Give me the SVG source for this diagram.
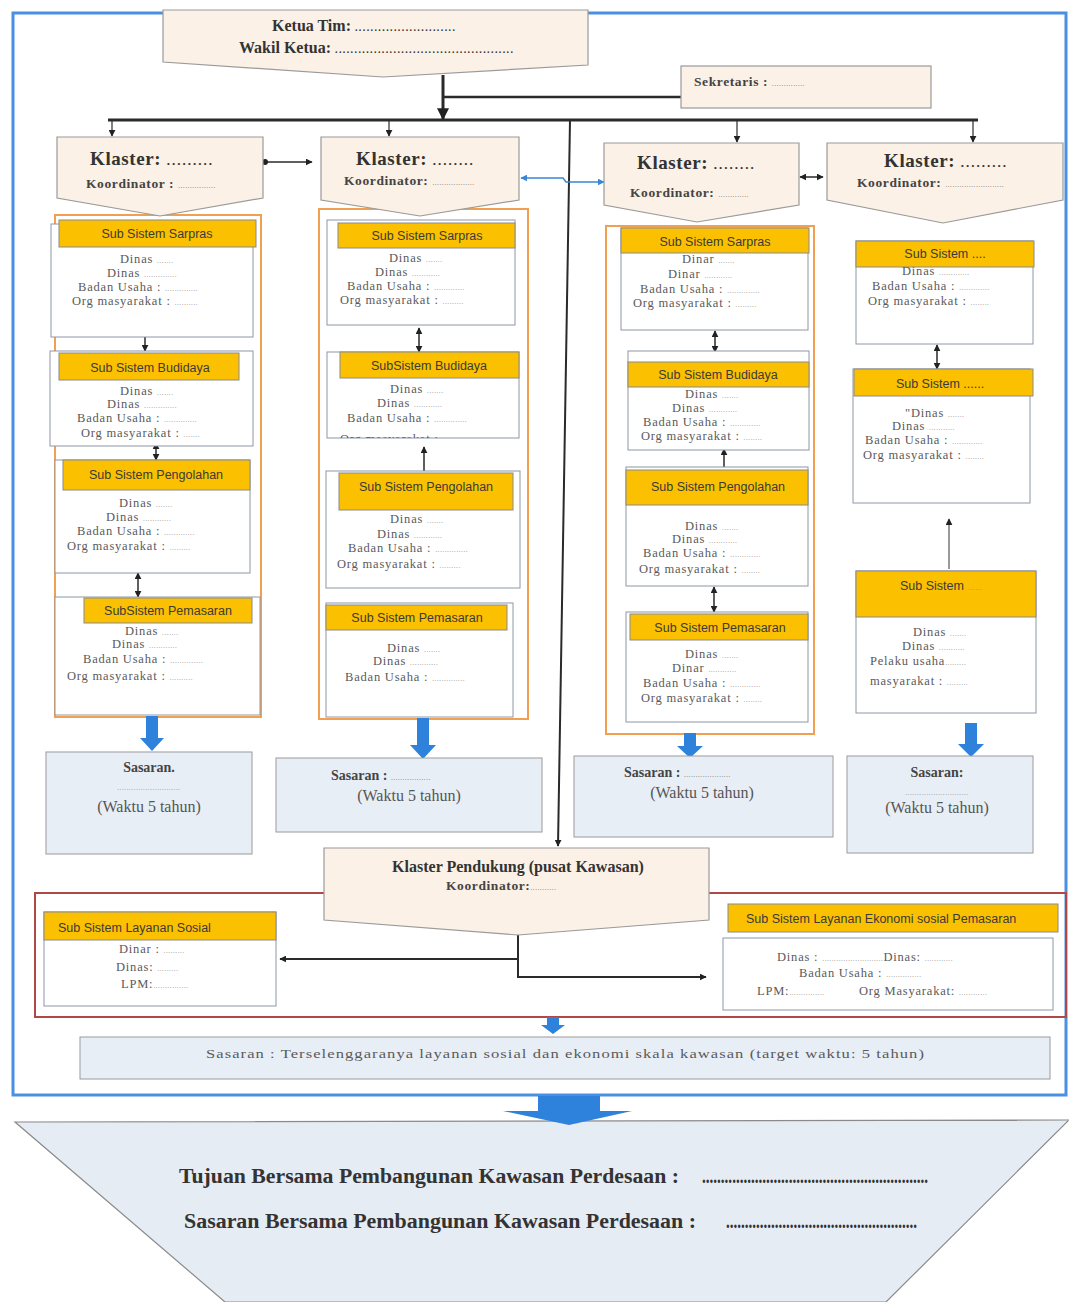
<svg xmlns="http://www.w3.org/2000/svg" width="1069" height="1302" viewBox="0 0 1069 1302">
<defs>
<style>
.kl{fill:#fbf1e6;stroke:#9a9a9a;stroke-width:1.2}
.box{fill:#fff;stroke:#8e97a8;stroke-width:1}
.hdr{fill:#fbc000;stroke:#8a8a8a;stroke-width:1}
.ht{font-family:"Liberation Sans",Arial,sans-serif;font-size:12.5px;fill:#3a3a3a;text-anchor:middle}
.htl{font-family:"Liberation Sans",Arial,sans-serif;font-size:12.5px;fill:#3a3a3a}
.b{font-family:"Liberation Serif","Times New Roman",serif;font-size:12.5px;fill:#5a5a5a;letter-spacing:0.8px}
.d{font-size:7px;fill:#8a8a8a;letter-spacing:0.6px}
.kd{font-size:13px;letter-spacing:2px;font-weight:bold}
.org{fill:none;stroke:#f0a050;stroke-width:2}
.sas{fill:#e8eef6;stroke:#9a9a9a;stroke-width:1}
.st{font-family:"Liberation Serif","Times New Roman",serif;font-weight:bold;font-size:14px;fill:#444}
.wt{font-family:"Liberation Serif","Times New Roman",serif;font-size:16px;fill:#555;text-anchor:middle}
.kt{font-family:"Liberation Serif","Times New Roman",serif;font-weight:bold;font-size:19px;fill:#333;letter-spacing:0.6px}
.ko{font-family:"Liberation Serif","Times New Roman",serif;font-weight:bold;font-size:13.5px;fill:#444;letter-spacing:0.6px}
.tt{font-family:"Liberation Serif","Times New Roman",serif;font-weight:bold;font-size:16px;fill:#333}
.bt{font-family:"Liberation Serif","Times New Roman",serif;font-weight:bold;font-size:20px;fill:#333}
.ln{fill:none;stroke:#2a2a2a}
.blue{fill:#2f82dc}
</style>
<marker id="ar" viewBox="0 0 10 10" refX="9" refY="5" markerWidth="7" markerHeight="7" markerUnits="userSpaceOnUse" orient="auto-start-reverse"><path d="M0,0 L10,5 L0,10 z" fill="#222"/></marker>
<marker id="arL" viewBox="0 0 10 10" refX="9" refY="5" markerWidth="12" markerHeight="12" markerUnits="userSpaceOnUse" orient="auto-start-reverse"><path d="M0,0 L10,5 L0,10 z" fill="#222"/></marker>
<marker id="arB" viewBox="0 0 10 10" refX="9" refY="5" markerWidth="7" markerHeight="7" markerUnits="userSpaceOnUse" orient="auto-start-reverse"><path d="M0,0 L10,5 L0,10 z" fill="#3a86d6"/></marker>
<marker id="dot" viewBox="0 0 10 10" refX="5" refY="5" markerWidth="6" markerHeight="6" markerUnits="userSpaceOnUse"><circle cx="5" cy="5" r="5" fill="#222"/></marker>
<clipPath id="clipBud2"><rect x="327" y="352" width="192" height="86"/></clipPath>
</defs>

<rect width="1069" height="1302" fill="#fff"/>

<!-- outer frames -->
<rect x="13" y="13" width="1053" height="1082" fill="none" stroke="#4a90e2" stroke-width="3"/>
<rect x="35" y="893" width="1031" height="124" fill="none" stroke="#b04848" stroke-width="2"/>

<!-- orange cluster frames -->
<rect class="org" x="55" y="215" width="206" height="502"/>
<rect class="org" x="319" y="209" width="209" height="510"/>
<rect class="org" x="606" y="226" width="208" height="508"/>

<!-- bottom goal -->
<g id="goal">
<path d="M15,1122 L1069,1120 L886,1302 L225,1302 Z" fill="#e6ecf4" stroke="#8a8a8a" stroke-width="1.2"/>
<text class="bt" x="179" y="1183" textLength="500" lengthAdjust="spacingAndGlyphs">Tujuan Bersama Pembangunan Kawasan Perdesaan :</text>
<text class="bt" x="702" y="1183" font-size="11" textLength="226" lengthAdjust="spacingAndGlyphs">............................................................</text>
<text class="bt" x="184" y="1228" textLength="512" lengthAdjust="spacingAndGlyphs">Sasaran Bersama Pembangunan Kawasan Perdesaan :</text>
<text class="bt" x="726" y="1228" font-size="11" textLength="191" lengthAdjust="spacingAndGlyphs">...................................................</text>
</g>

<!-- connectors -->
<g id="connectors">
<line class="ln" x1="443" y1="75" x2="443" y2="119" stroke-width="3" marker-end="url(#arL)"/>
<line class="ln" x1="443" y1="97" x2="690" y2="97" stroke-width="2.5"/>
<line class="ln" x1="108" y1="120" x2="978" y2="120" stroke-width="3"/>
<line class="ln" x1="112" y1="121" x2="112" y2="136" stroke-width="1.2" marker-end="url(#ar)"/>
<line class="ln" x1="389" y1="121" x2="389" y2="136" stroke-width="1.2" marker-end="url(#ar)"/>
<line class="ln" x1="737" y1="121" x2="737" y2="142" stroke-width="1.2" marker-end="url(#ar)"/>
<line class="ln" x1="973" y1="121" x2="973" y2="142" stroke-width="1.2" marker-end="url(#ar)"/>
<line class="ln" x1="570" y1="120" x2="558" y2="846" stroke-width="2" marker-end="url(#ar)"/>
<line class="ln" x1="265" y1="162" x2="312" y2="162" stroke-width="1.5" marker-start="url(#dot)" marker-end="url(#ar)"/>
<polyline points="521,178 563,178 566,182 604,182" fill="none" stroke="#3a86d6" stroke-width="1.5" marker-start="url(#arB)" marker-end="url(#arB)"/>
<line class="ln" x1="800" y1="177" x2="823" y2="177" stroke-width="1.5" marker-start="url(#ar)" marker-end="url(#ar)"/>
<!-- sub-box links -->
<line class="ln" x1="145" y1="328" x2="145" y2="351" stroke-width="1.5" marker-start="url(#ar)" marker-end="url(#ar)"/>
<line class="ln" x1="156" y1="443" x2="156" y2="460" stroke-width="1.5" marker-start="url(#ar)" marker-end="url(#ar)"/>
<line class="ln" x1="138" y1="573" x2="138" y2="597" stroke-width="1.5" marker-start="url(#ar)" marker-end="url(#ar)"/>
<line class="ln" x1="419" y1="328" x2="419" y2="352" stroke-width="1.5" marker-start="url(#ar)" marker-end="url(#ar)"/>
<line class="ln" x1="424" y1="471" x2="424" y2="447" stroke-width="1.5" marker-end="url(#ar)"/>
<line class="ln" x1="715" y1="331" x2="715" y2="352" stroke-width="1.5" marker-start="url(#ar)" marker-end="url(#ar)"/>
<line class="ln" x1="724" y1="467" x2="724" y2="449" stroke-width="1.5" marker-end="url(#ar)"/>
<line class="ln" x1="714" y1="587" x2="714" y2="612" stroke-width="1.5" marker-start="url(#ar)" marker-end="url(#ar)"/>
<line class="ln" x1="937" y1="345" x2="937" y2="369" stroke-width="1.5" marker-start="url(#ar)" marker-end="url(#ar)"/>
<line x1="949" y1="569" x2="949" y2="519" stroke="#555" stroke-width="1.2" marker-end="url(#ar)"/>
<!-- pendukung -->
<path class="ln" d="M518,935 V977 H706" stroke-width="2" marker-end="url(#ar)"/>
<path class="ln" d="M518,959 H280" stroke-width="2" marker-end="url(#ar)"/>
<!-- blue arrows -->
<path class="blue" d="M146,716 H158 V738 H164 L152,751 L140,738 H146 Z"/>
<path class="blue" d="M417,718 H429 V745 H436 L423,759 L410,745 H417 Z"/>
<path class="blue" d="M684,733 H696 V746 H703 L690,758 L677,746 H684 Z"/>
<path class="blue" d="M965,723 H977 V744 H984 L971,757 L958,744 H965 Z"/>
<path class="blue" d="M547,1017 H559 V1025 H565 L553,1034 L541,1025 H547 Z"/>
<path class="blue" d="M538,1096 H600 V1111 H632 L569,1125 L503,1111 H538 Z"/>
</g>

<!-- top -->
<g id="ketua">
<path class="kl" d="M163,10 H588 V65 L383,77 L163,62 Z"/>
<text class="tt" x="272" y="31">Ketua  Tim: <tspan font-size="10" letter-spacing="1.4">..........................</tspan></text>
<text class="tt" x="239" y="53">Wakil Ketua: <tspan font-size="10" letter-spacing="1.4">..............................................</tspan></text>
</g>
<g id="sekretaris">
<rect class="kl" x="681" y="66" width="250" height="42"/>
<text class="ko" x="694" y="86" font-size="12">Sekretaris : <tspan class="d" font-size="8">..............</tspan></text>
</g>

<!-- klaster heads -->
<g id="klaster1">
<path class="kl" d="M57,137 H263 V198 L160,216 L57,198 Z"/>
<text class="kt" x="90" y="165">Klaster: <tspan class="kd">.........</tspan></text>
<text class="ko" x="86" y="188">Koordinator  : <tspan class="d">................</tspan></text>
</g>
<g id="klaster2">
<path class="kl" d="M321,137 H519 V200 L420,216 L321,200 Z"/>
<text class="kt" x="356" y="165">Klaster: <tspan class="kd">........</tspan></text>
<text class="ko" x="344" y="185">Koordinator: <tspan class="d">..................</tspan></text>
</g>
<g id="klaster3">
<path class="kl" d="M604,143 H799 V205 L697,222 L604,205 Z"/>
<text class="kt" x="637" y="169">Klaster: <tspan class="kd">........</tspan></text>
<text class="ko" x="630" y="197">Koordinator: <tspan class="d">.............</tspan></text>
</g>
<g id="klaster4">
<path class="kl" d="M827,143 H1063 V200 L943,223 L827,200 Z"/>
<text class="kt" x="884" y="167" font-size="16">Klaster: <tspan class="kd" font-size="11">.........</tspan></text>
<text class="ko" x="857" y="187" font-size="12.5">Koordinator: <tspan class="d">.........................</tspan></text>
</g>

<!-- column 1 -->
<g id="c1-sarpras">
<rect class="box" x="51" y="224" width="202" height="113"/>
<rect class="hdr" x="59" y="220" width="197" height="27"/>
<text class="ht" x="157" y="238">Sub Sistem Sarpras</text>
<text class="b" x="120" y="263">Dinas <tspan class="d">.......</tspan></text>
<text class="b" x="107" y="277">Dinas <tspan class="d">..............</tspan></text>
<text class="b" x="78" y="291">Badan Usaha : <tspan class="d">..............</tspan></text>
<text class="b" x="72" y="305">Org masyarakat : <tspan class="d">..........</tspan></text>
</g>
<g id="c1-budidaya">
<rect class="box" x="50" y="351" width="203" height="95"/>
<rect class="hdr" x="59" y="353" width="180" height="27"/>
<text class="ht" x="150" y="372">Sub Sistem Budidaya</text>
<text class="b" x="120" y="395">Dinas <tspan class="d">.......</tspan></text>
<text class="b" x="107" y="408">Dinas <tspan class="d">..............</tspan></text>
<text class="b" x="77" y="422">Badan Usaha : <tspan class="d">..............</tspan></text>
<text class="b" x="81" y="437">Org masyarakat : <tspan class="d">.......</tspan></text>
</g>
<g id="c1-pengolahan">
<rect class="box" x="55" y="460" width="195" height="113"/>
<rect class="hdr" x="63" y="460" width="187" height="30"/>
<text class="ht" x="156" y="479">Sub Sistem Pengolahan</text>
<text class="b" x="119" y="507">Dinas <tspan class="d">.......</tspan></text>
<text class="b" x="106" y="521">Dinas <tspan class="d">............</tspan></text>
<text class="b" x="77" y="535">Badan Usaha : <tspan class="d">.............</tspan></text>
<text class="b" x="67" y="550">Org masyarakat : <tspan class="d">.........</tspan></text>
</g>
<g id="c1-pemasaran">
<rect class="box" x="55" y="597" width="205" height="118"/>
<rect class="hdr" x="84" y="598" width="168" height="25"/>
<text class="ht" x="168" y="615">SubSistem  Pemasaran</text>
<text class="b" x="125" y="635">Dinas <tspan class="d">.......</tspan></text>
<text class="b" x="112" y="648">Dinas <tspan class="d">............</tspan></text>
<text class="b" x="83" y="663">Badan Usaha : <tspan class="d">..............</tspan></text>
<text class="b" x="67" y="680">Org masyarakat : <tspan class="d">..........</tspan></text>
</g>

<!-- column 2 -->
<g id="c2-sarpras">
<rect class="box" x="327" y="220" width="188" height="105"/>
<rect class="hdr" x="338" y="223" width="177" height="25"/>
<text class="ht" x="427" y="240">Sub Sistem  Sarpras</text>
<text class="b" x="389" y="262">Dinas <tspan class="d">.......</tspan></text>
<text class="b" x="375" y="276">Dinas <tspan class="d">............</tspan></text>
<text class="b" x="347" y="290">Badan Usaha : <tspan class="d">.............</tspan></text>
<text class="b" x="340" y="304">Org masyarakat : <tspan class="d">.........</tspan></text>
</g>
<g id="c2-budidaya">
<rect class="box" x="327" y="352" width="192" height="86"/>
<rect class="hdr" x="340" y="352" width="179" height="26"/>
<text class="ht" x="429" y="370">SubSistem  Budidaya</text>
<text class="b" x="390" y="393">Dinas <tspan class="d">.......</tspan></text>
<text class="b" x="377" y="407">Dinas <tspan class="d">............</tspan></text>
<text class="b" x="347" y="422">Badan Usaha : <tspan class="d">..............</tspan></text>
<text class="b" x="340" y="443" clip-path="url(#clipBud2)">Org masyarakat : <tspan class="d">.........</tspan></text>
</g>
<g id="c2-pengolahan">
<rect class="box" x="326" y="471" width="194" height="117"/>
<rect class="hdr" x="339" y="473" width="174" height="37"/>
<text class="ht" x="426" y="491">Sub Sistem  Pengolahan</text>
<text class="b" x="390" y="523">Dinas <tspan class="d">.......</tspan></text>
<text class="b" x="377" y="538">Dinas <tspan class="d">............</tspan></text>
<text class="b" x="348" y="552">Badan Usaha : <tspan class="d">..............</tspan></text>
<text class="b" x="337" y="568">Org masyarakat : <tspan class="d">.........</tspan></text>
</g>
<g id="c2-pemasaran">
<rect class="box" x="326" y="603" width="187" height="114"/>
<rect class="hdr" x="326" y="605" width="181" height="25"/>
<text class="ht" x="417" y="622">Sub Sistem  Pemasaran</text>
<text class="b" x="387" y="652">Dinas <tspan class="d">.......</tspan></text>
<text class="b" x="373" y="665">Dinas <tspan class="d">............</tspan></text>
<text class="b" x="345" y="681">Badan Usaha : <tspan class="d">..............</tspan></text>
</g>

<!-- column 3 -->
<g id="c3-sarpras">
<rect class="box" x="621" y="228" width="187" height="102"/>
<rect class="hdr" x="621" y="228" width="188" height="25"/>
<text class="ht" x="715" y="246">Sub Sistem Sarpras</text>
<text class="b" x="682" y="263">Dinar <tspan class="d">.......</tspan></text>
<text class="b" x="668" y="278">Dinar <tspan class="d">............</tspan></text>
<text class="b" x="640" y="293">Badan Usaha : <tspan class="d">..............</tspan></text>
<text class="b" x="633" y="307">Org masyarakat : <tspan class="d">.........</tspan></text>
</g>
<g id="c3-budidaya">
<rect class="box" x="628" y="351" width="181" height="99"/>
<rect class="hdr" x="628" y="362" width="181" height="25"/>
<text class="ht" x="718" y="379">Sub Sistem  Budidaya</text>
<text class="b" x="685" y="398">Dinas <tspan class="d">.......</tspan></text>
<text class="b" x="672" y="412">Dinas <tspan class="d">............</tspan></text>
<text class="b" x="643" y="426">Badan Usaha : <tspan class="d">.............</tspan></text>
<text class="b" x="641" y="440">Org masyarakat : <tspan class="d">........</tspan></text>
</g>
<g id="c3-pengolahan">
<rect class="box" x="626" y="467" width="182" height="119"/>
<rect class="hdr" x="626" y="470" width="182" height="35"/>
<text class="ht" x="718" y="491">Sub Sistem  Pengolahan</text>
<text class="b" x="685" y="530">Dinas <tspan class="d">.......</tspan></text>
<text class="b" x="672" y="543">Dinas <tspan class="d">............</tspan></text>
<text class="b" x="643" y="557">Badan Usaha : <tspan class="d">.............</tspan></text>
<text class="b" x="639" y="573">Org masyarakat : <tspan class="d">........</tspan></text>
</g>
<g id="c3-pemasaran">
<rect class="box" x="626" y="612" width="182" height="110"/>
<rect class="hdr" x="630" y="614" width="178" height="26"/>
<text class="ht" x="720" y="632">Sub Sistem  Pemasaran</text>
<text class="b" x="685" y="658">Dinas <tspan class="d">.......</tspan></text>
<text class="b" x="672" y="672">Dinar <tspan class="d">............</tspan></text>
<text class="b" x="643" y="687">Badan Usaha : <tspan class="d">.............</tspan></text>
<text class="b" x="641" y="702">Org masyarakat : <tspan class="d">........</tspan></text>
</g>

<!-- column 4 -->
<g id="c4-sub1">
<rect class="box" x="856" y="241" width="177" height="103"/>
<rect class="hdr" x="856" y="241" width="178" height="26"/>
<text class="ht" x="945" y="258">Sub Sistem ....</text>
<text class="b" x="902" y="275">Dinas <tspan class="d">.............</tspan></text>
<text class="b" x="872" y="290">Badan Usaha : <tspan class="d">.............</tspan></text>
<text class="b" x="868" y="305">Org masyarakat : <tspan class="d">........</tspan></text>
</g>
<g id="c4-sub2">
<rect class="box" x="853" y="369" width="177" height="134"/>
<rect class="hdr" x="854" y="369" width="179" height="27"/>
<text class="ht" x="940" y="388">Sub Sistem ......</text>
<text class="b" x="905" y="417">"Dinas <tspan class="d">.......</tspan></text>
<text class="b" x="892" y="430">Dinas <tspan class="d">...........</tspan></text>
<text class="b" x="865" y="444">Badan Usaha : <tspan class="d">.............</tspan></text>
<text class="b" x="863" y="459">Org masyarakat : <tspan class="d">........</tspan></text>
</g>
<g id="c4-sub3">
<rect class="box" x="856" y="571" width="180" height="142"/>
<rect class="hdr" x="856" y="571" width="180" height="46"/>
<text class="htl" x="900" y="590">Sub Sistem <tspan class="d">......</tspan></text>
<text class="b" x="913" y="636">Dinas <tspan class="d">.......</tspan></text>
<text class="b" x="902" y="650">Dinas <tspan class="d">...........</tspan></text>
<text class="b" x="870" y="665">Pelaku usaha<tspan class="d">.........</tspan></text>
<text class="b" x="870" y="685">masyarakat : <tspan class="d">.........</tspan></text>
</g>

<!-- sasaran boxes -->
<g id="sasaran1">
<rect class="sas" x="46" y="752" width="206" height="102"/>
<text class="st" x="149" y="772" text-anchor="middle">Sasaran.</text>
<text class="b" x="149" y="790" text-anchor="middle"><tspan class="d">...........................</tspan></text>
<text class="wt" x="149" y="812">(Waktu 5 tahun)</text>
</g>
<g id="sasaran2">
<rect class="sas" x="276" y="758" width="266" height="74"/>
<text class="st" x="331" y="780">Sasaran : <tspan class="d" font-size="9">.................</tspan></text>
<text class="wt" x="409" y="801">(Waktu 5 tahun)</text>
</g>
<g id="sasaran3">
<rect class="sas" x="574" y="756" width="259" height="81"/>
<text class="st" x="624" y="777">Sasaran : <tspan class="d" font-size="9">....................</tspan></text>
<text class="wt" x="702" y="798">(Waktu 5 tahun)</text>
</g>
<g id="sasaran4">
<rect class="sas" x="847" y="756" width="186" height="97"/>
<text class="st" x="937" y="777" text-anchor="middle">Sasaran:</text>
<text class="b" x="937" y="795" text-anchor="middle"><tspan class="d">...........................</tspan></text>
<text class="wt" x="937" y="813" font-size="13">(Waktu  5 tahun)</text>
</g>

<!-- pendukung -->
<g id="pendukung">
<path class="kl" d="M324,848 H709 V920 L518,935 L324,920 Z"/>
<text class="tt" x="518" y="872" text-anchor="middle" font-size="15">Klaster Pendukung (pusat  Kawasan)</text>
<text class="ko" x="446" y="890" font-size="11">Koordinator:<tspan class="d">...........</tspan></text>
</g>
<g id="layanan-sosial">
<rect class="box" x="44" y="912" width="232" height="94"/>
<rect class="hdr" x="44" y="912" width="232" height="28"/>
<text class="htl" x="58" y="932">Sub  Sistem  Layanan  Sosial</text>
<text class="b" x="119" y="953">Dinar : <tspan class="d">.........</tspan></text>
<text class="b" x="116" y="971">Dinas: <tspan class="d">.........</tspan></text>
<text class="b" x="121" y="988">LPM:<tspan class="d">...............</tspan></text>
</g>
<g id="layanan-ekonomi">
<rect class="hdr" x="728" y="904" width="330" height="28"/>
<text class="htl" x="746" y="923" font-size="11.5">Sub  Sistem  Layanan Ekonomi sosial Pemasaran</text>
<rect class="box" x="723" y="938" width="330" height="72"/>
<text class="b" x="777" y="961">Dinas : <tspan class="d">..........................</tspan>Dinas: <tspan class="d">............</tspan></text>
<text class="b" x="799" y="977">Badan Usaha : <tspan class="d">...............</tspan></text>
<text class="b" x="757" y="995">LPM:<tspan class="d">...............</tspan></text>
<text class="b" x="859" y="995">Org Masyarakat: <tspan class="d">............</tspan></text>
</g>
<g id="sasaran-kawasan">
<rect class="sas" x="80" y="1037" width="970" height="42"/>
<text class="b" x="206" y="1058" font-size="13" letter-spacing="0" textLength="719" lengthAdjust="spacingAndGlyphs">Sasaran  : Terselenggaranya layanan  sosial dan  ekonomi skala  kawasan  (target waktu:  5 tahun)</text>
</g>
</svg>
